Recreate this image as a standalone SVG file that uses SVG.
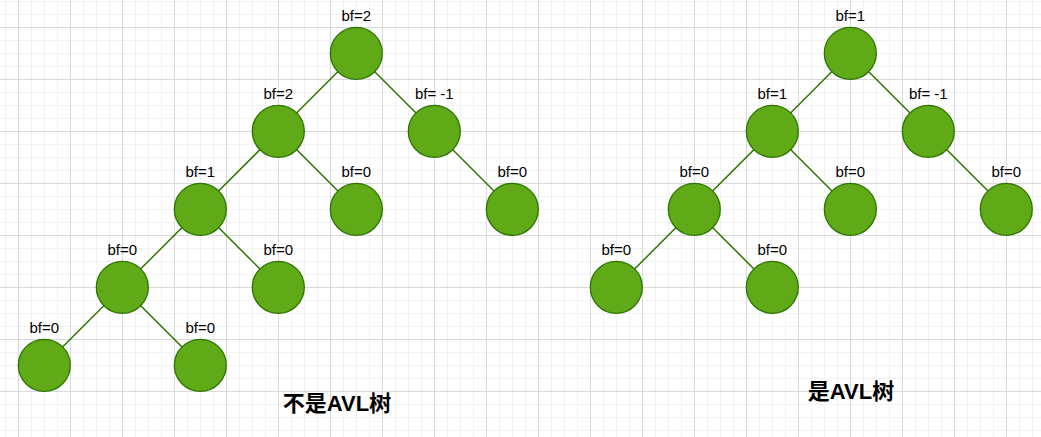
<svg xmlns="http://www.w3.org/2000/svg" width="1041" height="437" viewBox="0 0 1041 437">
<defs>
<pattern id="grid" patternUnits="userSpaceOnUse" x="18" y="27" width="52" height="52">
<path d="M13.5 0V52M26.5 0V52M39.5 0V52M0 13.5H52M0 26.5H52M0 39.5H52" stroke="#f2f2f2" stroke-width="1" fill="none"/>
<path d="M0.5 0V52M0 0.5H52" stroke="#d9d9d9" stroke-width="1" fill="none"/>
</pattern>
</defs>
<style>
.n{fill:#60a917;stroke:#2d7600;stroke-width:1.3}
.e{stroke:#2d7600;stroke-width:1.5;fill:none}
.l{font-family:"Liberation Sans",Arial,sans-serif;font-size:15px;fill:#000;text-anchor:middle}
.t{font-family:"Liberation Sans","Noto Sans CJK SC",sans-serif;font-size:22px;font-weight:bold;fill:#000;text-anchor:middle}
</style>
<rect width="1041" height="437" fill="#fff"/>
<rect width="1041" height="437" fill="url(#grid)"/>
<g id="connectors">
<line class="e" x1="356.3" y1="53.3" x2="278.3" y2="131.3"/>
<line class="e" x1="356.3" y1="53.3" x2="434.3" y2="131.3"/>
<line class="e" x1="278.3" y1="131.3" x2="200.3" y2="209.3"/>
<line class="e" x1="278.3" y1="131.3" x2="356.3" y2="209.3"/>
<line class="e" x1="434.3" y1="131.3" x2="512.3" y2="209.3"/>
<line class="e" x1="200.3" y1="209.3" x2="122.3" y2="287.3"/>
<line class="e" x1="200.3" y1="209.3" x2="278.3" y2="287.3"/>
<line class="e" x1="122.3" y1="287.3" x2="44.3" y2="365.3"/>
<line class="e" x1="122.3" y1="287.3" x2="200.3" y2="365.3"/>
<line class="e" x1="850.3" y1="53.3" x2="772.3" y2="131.3"/>
<line class="e" x1="850.3" y1="53.3" x2="928.3" y2="131.3"/>
<line class="e" x1="772.3" y1="131.3" x2="694.3" y2="209.3"/>
<line class="e" x1="772.3" y1="131.3" x2="850.3" y2="209.3"/>
<line class="e" x1="928.3" y1="131.3" x2="1006.3" y2="209.3"/>
<line class="e" x1="694.3" y1="209.3" x2="616.3" y2="287.3"/>
<line class="e" x1="694.3" y1="209.3" x2="772.3" y2="287.3"/>
</g>
<g id="a-root"><circle class="n" cx="356.3" cy="53.3" r="26"/><text class="l" x="356.3" y="21">bf=2</text></g>
<g id="a-l"><circle class="n" cx="278.3" cy="131.3" r="26"/><text class="l" x="278.3" y="99">bf=2</text></g>
<g id="a-r"><circle class="n" cx="434.3" cy="131.3" r="26"/><text class="l" x="434.3" y="99">bf= -1</text></g>
<g id="a-ll"><circle class="n" cx="200.3" cy="209.3" r="26"/><text class="l" x="200.3" y="177">bf=1</text></g>
<g id="a-lr"><circle class="n" cx="356.3" cy="209.3" r="26"/><text class="l" x="356.3" y="177">bf=0</text></g>
<g id="a-rr"><circle class="n" cx="512.3" cy="209.3" r="26"/><text class="l" x="512.3" y="177">bf=0</text></g>
<g id="a-lll"><circle class="n" cx="122.3" cy="287.3" r="26"/><text class="l" x="122.3" y="255">bf=0</text></g>
<g id="a-llr"><circle class="n" cx="278.3" cy="287.3" r="26"/><text class="l" x="278.3" y="255">bf=0</text></g>
<g id="a-llll"><circle class="n" cx="44.3" cy="365.3" r="26"/><text class="l" x="44.3" y="333">bf=0</text></g>
<g id="a-lllr"><circle class="n" cx="200.3" cy="365.3" r="26"/><text class="l" x="200.3" y="333">bf=0</text></g>
<g id="b-root"><circle class="n" cx="850.3" cy="53.3" r="26"/><text class="l" x="850.3" y="21">bf=1</text></g>
<g id="b-l"><circle class="n" cx="772.3" cy="131.3" r="26"/><text class="l" x="772.3" y="99">bf=1</text></g>
<g id="b-r"><circle class="n" cx="928.3" cy="131.3" r="26"/><text class="l" x="928.3" y="99">bf= -1</text></g>
<g id="b-ll"><circle class="n" cx="694.3" cy="209.3" r="26"/><text class="l" x="694.3" y="177">bf=0</text></g>
<g id="b-lr"><circle class="n" cx="850.3" cy="209.3" r="26"/><text class="l" x="850.3" y="177">bf=0</text></g>
<g id="b-rr"><circle class="n" cx="1006.3" cy="209.3" r="26"/><text class="l" x="1006.3" y="177">bf=0</text></g>
<g id="b-lll"><circle class="n" cx="616.3" cy="287.3" r="26"/><text class="l" x="616.3" y="255">bf=0</text></g>
<g id="b-llr"><circle class="n" cx="772.3" cy="287.3" r="26"/><text class="l" x="772.3" y="255">bf=0</text></g>
<g id="title-a"><text class="t" x="337" y="411">不是AVL树</text></g>
<g id="title-b"><text class="t" x="851" y="399">是AVL树</text></g>
</svg>
